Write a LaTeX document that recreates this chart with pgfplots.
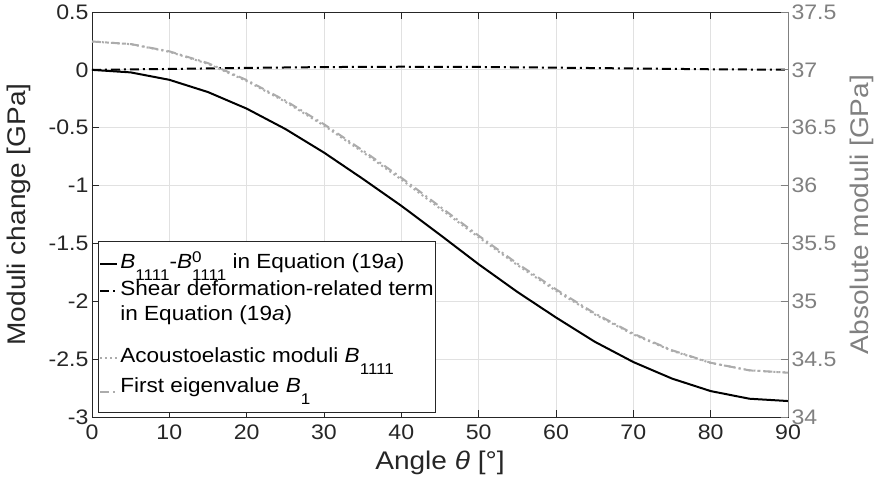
\documentclass[border=0pt]{standalone}
\usepackage{fontspec}
\setmainfont{Liberation Sans}[FakeStretch=1.1]
\usepackage{pgfplots}
\usepackage{pgfplotstable}
\pgfplotsset{compat=1.18}
\definecolor{axdark}{RGB}{38,38,38}
\definecolor{axgrey}{RGB}{128,128,128}
\definecolor{lngrey}{RGB}{172,172,172}
\definecolor{gridc}{RGB}{225,225,225}
\newcommand{\lsub}[1]{\smash{\raisebox{-11.5pt}{\fontsize{15.5}{18}\selectfont #1}}}
\newcommand{\lsup}[1]{\smash{\raisebox{6pt}{\fontsize{15.5}{18}\selectfont #1}}}

% B1111 - B0_1111 (left axis, GPa)
\pgfplotstableread{
x y
0 0
5 -0.022
10 -0.086
15 -0.192
20 -0.335
25 -0.511
30 -0.715
35 -0.941
40 -1.175
45 -1.425
50 -1.680
55 -1.919
60 -2.140
65 -2.349
70 -2.525
75 -2.668
80 -2.776
85 -2.842
90 -2.862
}\tabsolid

% shear deformation-related term (left axis, GPa)
\pgfplotstableread{
x y
0 0
10 0.008
20 0.017
30 0.024
40 0.027
50 0.025
60 0.019
70 0.012
80 0.005
90 0.001
}\tabshear

% acoustoelastic moduli B1111 (right axis, GPa)
\pgfplotstableread{
x y
0 37.245
5 37.222
10 37.156
15 37.052
20 36.904
25 36.724
30 36.518
35 36.290
40 36.052
45 35.802
50 35.553
55 35.313
60 35.090
65 34.887
70 34.713
75 34.572
80 34.467
85 34.404
90 34.383
}\tabacoust

% first eigenvalue B1 (right axis, GPa)
\pgfplotstableread{
x y
0 37.245
5 37.223
10 37.160
15 37.058
20 36.912
25 36.734
30 36.530
35 36.304
40 36.068
45 35.818
50 35.567
55 35.326
60 35.103
65 34.896
70 34.720
75 34.577
80 34.469
85 34.403
90 34.383
}\tabeigen

\tikzset{
  solidB/.style={black, line width=2pt, solid},
  dashdotB/.style={black, line width=2pt, dash pattern=on 9pt off 4pt on 2pt off 4pt},
  dashdotG/.style={lngrey, line width=2pt, dash pattern=on 9pt off 4pt on 2pt off 4pt},
  dotG/.style={lngrey, line width=2pt, dash pattern=on 2pt off 3pt},
}
\pgfplotsset{
  common/.style={
    width=696pt, height=405pt, scale only axis,
    at={(0,0)}, anchor=south west,
    xmin=0, xmax=90,
    /pgf/number format/assume math mode=true,
    tick label style={font=\fontsize{21}{25}\selectfont},
    label style={font=\fontsize{25.5}{30}\selectfont},
    tick align=inside,
    major tick length=7pt,
  },
}

\begin{document}
\begin{tikzpicture}
\begin{axis}[common,
  ymin=-3, ymax=0.5,
  xtick={0,10,20,30,40,50,60,70,80,90},
  ytick={-3,-2.5,-2,-1.5,-1,-0.5,0,0.5},
  xtick pos=both, ytick pos=left,
  axis line style={axdark, line width=0.8pt},
  every tick/.append style={axdark, line width=0.8pt},
  tick label style={axdark},
  grid=major,
  major grid style={gridc, line width=0.8pt},
  xticklabel style={yshift=-4pt},
  xlabel={Angle \textit{θ} [°]},
  ylabel={Moduli change [GPa]},
  xlabel style={at={(axis description cs:0.5,-0.114)}, anchor=center, text=axdark},
  ylabel style={at={(axis description cs:-0.105,0.5)}, anchor=center, text=axdark},
]
\addplot[solidB] table[x=x,y=y] {\tabsolid};
\addplot[dashdotB] table[x=x,y=y] {\tabshear};
\end{axis}

\begin{axis}[common,
  ymin=34, ymax=37.5,
  ytick={34,34.5,35,35.5,36,36.5,37,37.5},
  axis x line=none,
  axis y line*=right,
  axis line style={axgrey, line width=0.8pt},
  every tick/.append style={axgrey, line width=0.8pt},
  yticklabel style={axgrey},
  ylabel={Absolute moduli [GPa]},
  ylabel style={at={(axis description cs:1.106,0.5)}, anchor=center, text=axgrey},
  legend style={
    at={(rel axis cs:0.0086,0.0099)}, anchor=south west,
    draw=axdark, line width=0.8pt, fill=white,
    font=\fontsize{20.5}{25}\selectfont,
    inner xsep=1pt, inner ysep=0pt,
    row sep=0pt, column sep=1pt,
    nodes={inner xsep=1pt, inner ysep=0pt},
    cells={anchor=west, align=left},
  },
  legend image code/.code={\draw[#1] (0pt,0pt) -- (17pt,0pt);},
]
\addlegendimage{legend image code/.code={\draw[solidB] (0pt,-2.5pt) -- (17pt,-2.5pt); \path (0pt,2.5pt);}}
\addlegendentry[text height=27pt, text depth=12pt]{\textit{B}\lsub{1111}-\textit{B}\rlap{\lsup{0}}\lsub{1111} in Equation (19\textit{a})}
\addlegendimage{legend image code/.code={\draw[dashdotB] (0pt,22pt) -- (17pt,22pt); \path (0pt,-22pt);}}
\addlegendentry[text height=40pt, text depth=24pt]{Shear deformation-related term\\in Equation (19\textit{a})}
\addplot[dotG] table[x=x,y=y] {\tabacoust};
\addlegendentry[text height=18pt, text depth=8pt]{Acoustoelastic moduli \textit{B}\lsub{1111}}
\addplot[dashdotG] table[x=x,y=y] {\tabeigen};
\addlegendentry[text height=22pt, text depth=20pt]{First eigenvalue \textit{B}\lsub{1}}
\end{axis}
\pgfresetboundingbox
\useasboundingbox (-92pt,-73pt) rectangle (788pt,417pt);
\end{tikzpicture}
\end{document}
